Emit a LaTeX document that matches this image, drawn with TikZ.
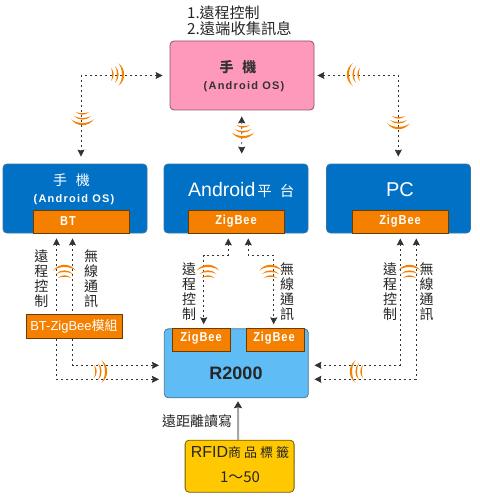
\documentclass[tikz,border=0pt]{standalone}
\usepackage{fontspec}
\setmainfont{Liberation Sans}
\newfontfamily\cjk{Noto Sans CJK TC}
\newfontfamily\sparse[LetterSpace=11]{Liberation Sans}
\newfontfamily\narrowsans[FakeStretch=0.85,LetterSpace=7]{Liberation Sans}
\usepackage{xcolor}
\usetikzlibrary{arrows.meta, positioning, backgrounds}

\definecolor{phonepink}{HTML}{FF99BB}
\definecolor{boxblue}{HTML}{0071C4}
\definecolor{readerblue}{HTML}{5FBCF5}
\definecolor{radioorange}{HTML}{F58000}
\definecolor{tagyellow}{HTML}{FFC800}

\begin{document}
\begin{tikzpicture}[x=1pt, y=-1pt,
    unit/.style={rectangle, rounded corners=4pt, minimum width=144pt, minimum height=69pt,
                 inner sep=0pt, line width=0.8pt},
    phonebox/.style={unit, fill=phonepink, draw=phonepink!55!black},
    bluebox/.style={unit, fill=boxblue, draw=boxblue!60!gray},
    radio/.style={rectangle, fill=radioorange, draw=radioorange!45!black, line width=0.8pt,
                  minimum width=96pt, minimum height=23pt, inner sep=0pt},
    radiotext/.style={text=white, font=\narrowsans\bfseries\fontsize{13}{15}\selectfont, inner sep=0pt},
    link/.style={{Stealth[length=7pt,width=7pt,inset=1pt]}-{Stealth[length=7pt,width=7pt,inset=1pt]},
                 draw=black!80, line width=0.7pt, dash pattern=on 2pt off 3pt},
    caption/.style={font=\cjk\fontsize{14}{15}\selectfont, inner sep=0pt, align=center, text=black!85},
    wave/.pic={
        \foreach \tipx/\outer/\inner/\tipy in {-5/-1.4/-3.4/6.5, -1/3.8/1.6/8.5, 2.3/10.2/7.2/11.3}
            \fill [radioorange] (\tipx,-\tipy) .. controls (\outer,-0.5*\tipy) and (\outer,0.5*\tipy) .. (\tipx,\tipy)
                .. controls (\inner,0.5*\tipy) and (\inner,-0.5*\tipy) .. cycle;
    }
]
\useasboundingbox (0,0) rectangle (479,497);

% --- Top row ---
\node (phone) [phonebox] at (242,75.5) {};
\node (mobile) [bluebox] at (75,198.5) {};
\node (android) [bluebox, right=16.2pt of mobile] {};
\node (pc) [bluebox, right=17.7pt of android] {};

\node (bt) [radio, anchor=south] at ([xshift=6pt]mobile.south) {};
\node (zband) [radio, anchor=south] at (android.south) {};
\node (zbpc) [radio, anchor=south] at ([xshift=2pt]pc.south) {};

% --- Reader and tag ---
\node (module) [radio, minimum height=24pt] at (74.5,326.3) {};
\node (reader) [unit, fill=readerblue, draw=boxblue!50!black!70, below=95pt of android, xshift=0.3pt] {};
\node (zbleft) [radio, minimum width=58pt, anchor=north west] at (172.3,327.7) {};
\node (zbright) [radio, minimum width=58pt, anchor=north west] at (245.5,327.7) {};
\node (tag) [rectangle, rounded corners=4pt, fill=tagyellow, draw=tagyellow!45!black,
             minimum width=109pt, minimum height=52pt, line width=0.8pt] at (239.6,466.2) {};

% --- Arrows ---
\begin{scope}[on background layer]
\draw [link, shorten <=7pt, shorten >=7pt] (phone.west) -| ([xshift=6pt]mobile.north);
\draw [link, shorten <=6pt, shorten >=10pt] ([xshift=-0.3pt]phone.south) -- ([xshift=5.7pt]android.north);
\draw [link, shorten <=3pt, shorten >=7pt] (phone.east) -| ([xshift=-0.2pt]pc.north);
\draw [link, shorten <=5pt, shorten >=5pt] ([xshift=-24.5pt]bt.south) |- ([yshift=-16pt]reader.west);
\draw [link, shorten <=5pt, shorten >=5pt] ([xshift=-8.5pt]bt.south) |- ([yshift=-2pt]reader.west);
\draw [link, shorten <=5pt, shorten >=3.4pt] ([xshift=-7.7pt]zband.south) -- ++(0,22) -| ([xshift=2pt]zbleft.north);
\draw [link, shorten <=5pt, shorten >=3.4pt] ([xshift=12.3pt]zband.south) -- ++(0,22) -| ([xshift=-1.2pt]zbright.north);
\draw [link, shorten <=5pt, shorten >=5.7pt] ([xshift=-0.2pt]zbpc.south) |- ([yshift=-2pt]reader.east);
\draw [link, shorten <=5pt, shorten >=5.7pt] ([xshift=15.8pt]zbpc.south) |- ([yshift=-16pt]reader.east);
\end{scope}
\draw [draw=black!35, line width=2pt, -{Stealth[length=7pt,width=8pt,inset=1pt,black!80]}, shorten >=3pt]
    ([xshift=-1.6pt]tag.north) -- ([xshift=1.7pt]reader.south);

% --- Radio waves ---
\pic at (116,74.5) {wave};
\pic [rotate=180] at (355,74.5) {wave};
\pic [rotate=270] at (82.5,117) {wave};
\pic [rotate=270] at (243,130) {wave};
\pic [rotate=270] at (398.5,121) {wave};
\pic [rotate=90] at (64.5,273) {wave};
\pic [rotate=90] at (208,273) {wave};
\pic [rotate=90] at (270.5,273) {wave};
\pic [rotate=90] at (409.5,273) {wave};
\pic at (99,371.5) {wave};
\pic [rotate=180] at (358,371.5) {wave};

% --- Labels ---
\node (goalone) [caption, anchor=west, font=\cjk\fontsize{15}{15}\selectfont] at (187,12.3) {1.遠程控制};
\node (goaltwo) [caption, anchor=west, font=\cjk\fontsize{15.3}{15}\selectfont] at (187,29) {2.遠端收集訊息};
\node (phonename) [font=\cjk\bfseries\fontsize{14}{15}\selectfont, text=black!80] at (238,67) {手\hspace{9pt}機};
\node (phoneos) [font=\sparse\bfseries\fontsize{11}{13}\selectfont, text=black!80] at (244,87) {(Android OS)};
\node (mobilename) [font=\cjk\fontsize{14}{15}\selectfont, text=white] at (71.5,180) {手\hspace{9pt}機};
\node (mobileos) [font=\sparse\bfseries\fontsize{11}{13}\selectfont, text=white] at (74,200) {(Android OS)};
\node (androidname) [font=\fontsize{19.5}{21}\selectfont, text=white, anchor=west, inner sep=0pt] at (188,190) {Android{\cjk\fontsize{14.5}{15}\selectfont \hspace{2pt}平\hspace{8pt}台}};
\node (pcname) [font=\fontsize{20}{22}\selectfont, text=white] at (400,190) {PC};
\node (btname) [radiotext] at (68,221.5) {BT};
\node (zbandname) [radiotext] at (236,221.5) {ZigBee};
\node (zbpcname) [radiotext] at (400,221.5) {ZigBee};
\node (modulename) [text=white, inner sep=0pt, font=\fontsize{13}{15}\selectfont] at (74,326.7) {BT-ZigBee{\cjk 模組}};
\node (zbleftname) [radiotext] at (201,337.7) {ZigBee};
\node (zbrightname) [radiotext] at (274,337.7) {ZigBee};
\node (readername) [font=\bfseries\fontsize{18}{20}\selectfont, text=black!85] at (236,373) {R2000};
\node (tagname) [inner sep=0pt, font=\fontsize{16}{18}\selectfont, text=black!85] at (240,452.7) {RFID{\cjk\fontsize{13}{14}\selectfont 商\hspace{3pt}品\hspace{3pt}標\hspace{3pt}籤}};
\node (tagcount) [caption, font=\cjk\fontsize{15}{17}\selectfont] at (240,476.7) {1～50};
\node (distance) [caption, anchor=west] at (162,421) {遠距離讀寫};

\node (ctrlbt) [caption] at (41.3,279) {遠\\程\\控\\制};
\node (commbt) [caption] at (91,279) {無\\線\\通\\訊};
\node (ctrlzb) [caption] at (189,291.5) {遠\\程\\控\\制};
\node (commzb) [caption] at (287,291.5) {無\\線\\通\\訊};
\node (ctrlpc) [caption] at (390,291.5) {遠\\程\\控\\制};
\node (commpc) [caption] at (426.7,291.5) {無\\線\\通\\訊};
\end{tikzpicture}
\end{document}
